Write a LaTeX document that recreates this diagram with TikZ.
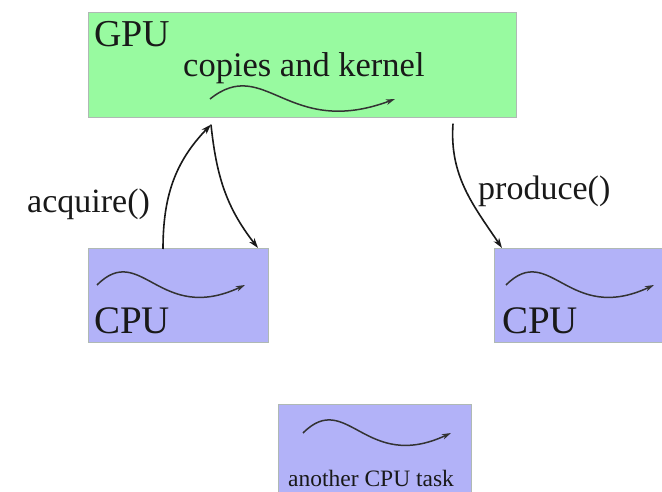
\documentclass[tikz,border=0pt]{standalone}
\usepackage{fontspec}
\setmainfont{Liberation Serif}
\usetikzlibrary{arrows.meta,calc}
\definecolor{gpugreen}{RGB}{152,250,160}
\definecolor{cpublue}{RGB}{178,178,248}
\definecolor{boxedge}{RGB}{175,185,180}
\begin{document}
\begin{tikzpicture}[x=1pt,y=1pt,
  box/.style={rectangle, draw=boxedge, line width=0.6pt, inner sep=0pt, anchor=north west},
  gpubox/.style={box, fill=gpugreen},
  cpubox/.style={box, fill=cpublue},
  lbl/.style={inner sep=0pt, anchor=base west, text=black!90},
  big/.style={lbl, font=\fontsize{39}{42}\selectfont},
  mid/.style={lbl, font=\fontsize{34}{37}\selectfont},
  small/.style={lbl, font=\fontsize{23.5}{26}\selectfont},
  flow/.style={draw=black!90, line width=1.6pt, -{Stealth[length=10pt,width=6.5pt,inset=3pt]}},
  wavearrow/.style={draw=black!80, line width=1.5pt, -{Stealth[length=9pt,width=5.5pt,inset=2.5pt]}},
  wave/.pic={\draw[wavearrow] (0,0) .. controls (44,44) and (62,-40) .. (148,0);}
]
\useasboundingbox (0,0) rectangle (662,-492);
\fill[white] (0,0) rectangle (662,-492);
\clip (0,0) rectangle (662,-492);

% boxes
\node[gpubox, minimum width=428pt, minimum height=105pt] (gpu) at (88,-12) {};
\node[cpubox, minimum width=180pt, minimum height=94pt] (cpuL) at (88,-248) {};
\node[cpubox, minimum width=190pt, minimum height=94pt] (cpuR) at (494,-248) {};
\node[cpubox, minimum width=193pt, minimum height=100pt] (task) at (278,-404) {};

% box labels
\node[lbl, font=\fontsize{38}{41}\selectfont] (gpuT) at (94,-47) {GPU};
\node[lbl, font=\fontsize{34.5}{37}\selectfont] (kern) at (183,-77) {copies and kernel};
\node[big] (cpuLT) at (94,-333) {CPU};
\node[big] (cpuRT) at (502,-333) {CPU};
\node[small] (taskT) at (288,-486) {another CPU task};

% work running inside each box
\pic (wg) at (210,-99) [xscale=1.25] {wave};
\pic (wl) at (97,-285) {wave};
\pic (wr) at (506,-285) {wave};
\pic (wt) at (303,-433) {wave};

% connector ends
\coordinate (a1) at ($(cpuL.north west)+(75,-1)$);
\coordinate (a2) at ($(cpuL.north west)+(170,0)$);
\coordinate (g1) at ($(gpu.south west)+(123,-7)$);
\coordinate (g2) at ($(gpu.south west)+(365,-6)$);
\coordinate (b1) at ($(cpuR.north west)+(8,0)$);

\draw[flow] (a1) to[out=90, in=226] (g1);
\draw[flow] (g1) to[out=-84, in=128] (a2);
\draw[flow] (g2) to[out=-94, in=124] (b1);

\node[mid] (acq) at (27,-213) {acquire()};
\node[mid] (prod) at (478,-200) {produce()};
\end{tikzpicture}
\end{document}
